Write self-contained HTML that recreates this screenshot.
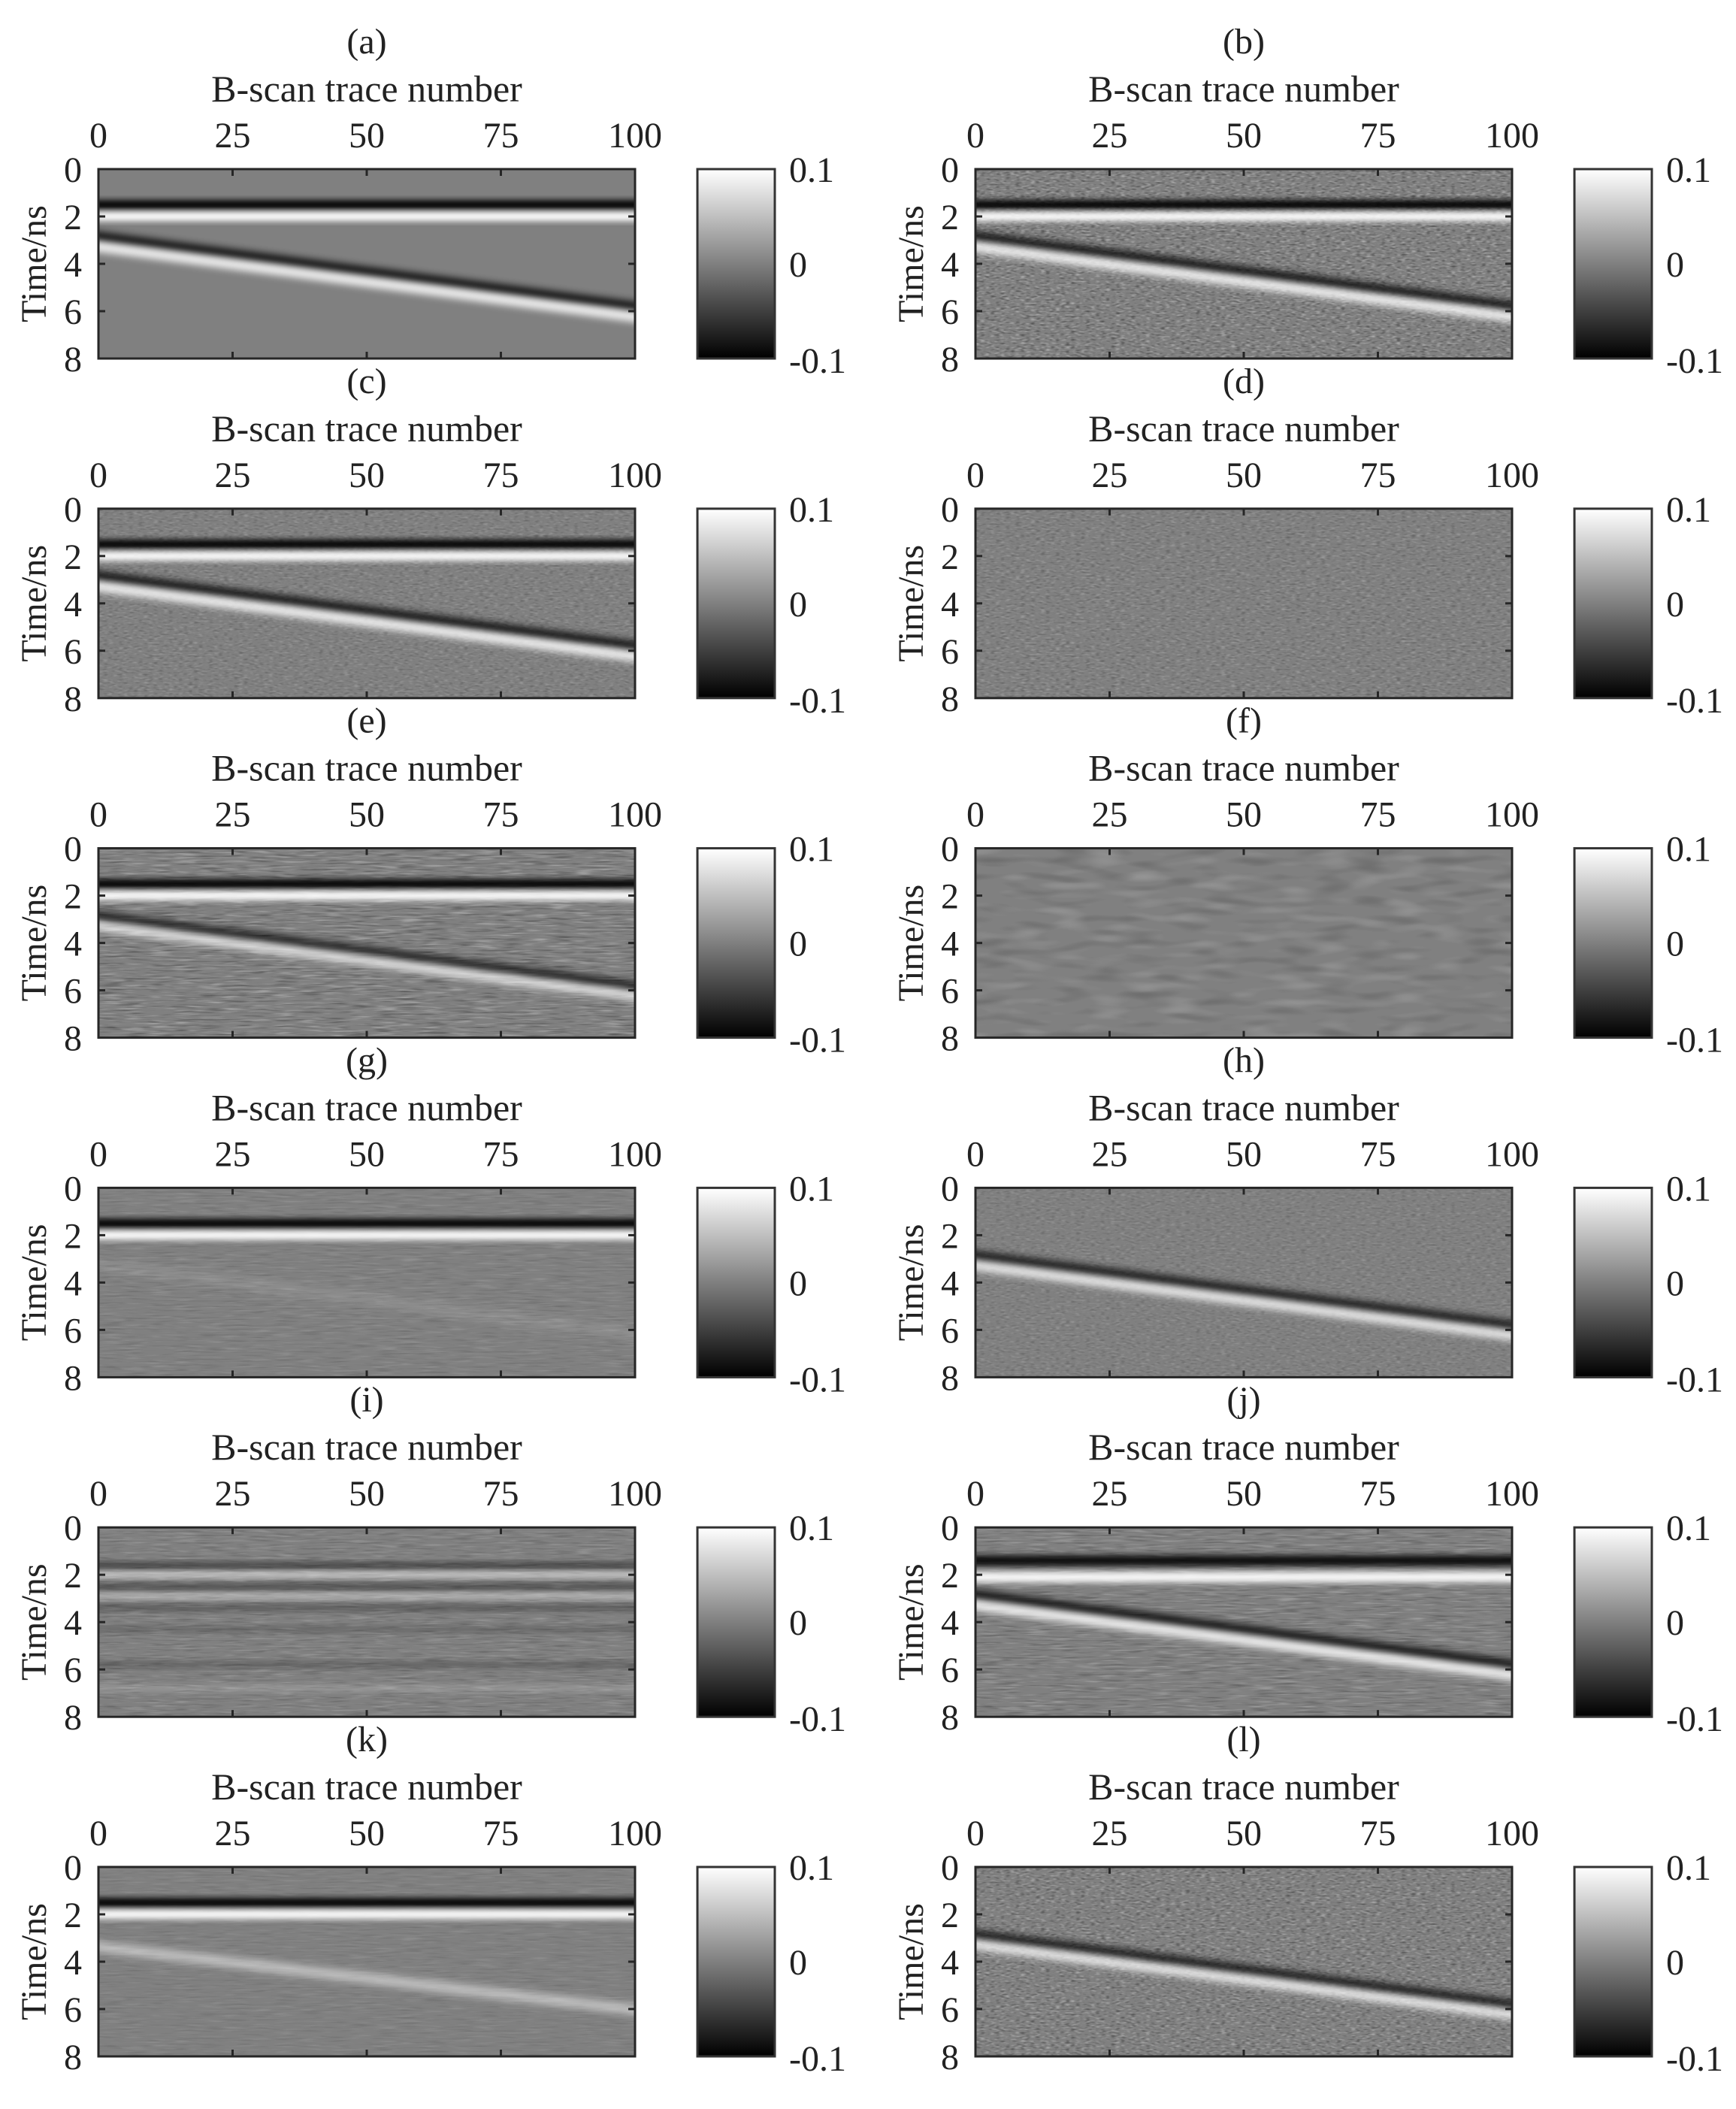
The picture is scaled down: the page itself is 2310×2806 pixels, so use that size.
<!DOCTYPE html>
<html><head><meta charset="utf-8">
<style>
html,body{margin:0;padding:0;background:#fff;}
</style></head>
<body>
<svg id="s" width="2310" height="2801" xmlns="http://www.w3.org/2000/svg">
<defs>
<linearGradient id="cb" x1="0" y1="0" x2="0" y2="1"><stop offset="0" stop-color="#fff"/><stop offset="1" stop-color="#000"/></linearGradient>
<filter id="bl" x="-5%" y="-50%" width="110%" height="200%"><feGaussianBlur stdDeviation="0 4"/></filter>
<filter id="bl2" x="-5%" y="-50%" width="110%" height="200%"><feGaussianBlur stdDeviation="2 5"/></filter>
<filter id="nz1" x="0" y="0" width="100%" height="100%"><feTurbulence type="fractalNoise" baseFrequency="0.15 0.45" numOctaves="1" seed="3"/><feColorMatrix type="matrix" values="0 0 0 0 0  0 0 0 0 0  0 0 0 0 0  1.6 0 0 0 -0.8"/></filter>
<filter id="nzW" x="0" y="0" width="100%" height="100%"><feTurbulence type="fractalNoise" baseFrequency="0.15 0.45" numOctaves="1" seed="7"/><feColorMatrix type="matrix" values="0 0 0 0 1  0 0 0 0 1  0 0 0 0 1  1.6 0 0 0 -0.8"/></filter>
<filter id="nzS" x="0" y="0" width="100%" height="100%"><feTurbulence type="fractalNoise" baseFrequency="0.03 0.4" numOctaves="2" seed="5"/><feColorMatrix type="matrix" values="0 0 0 0 0  0 0 0 0 0  0 0 0 0 0  1.4 0 0 0 -0.7"/></filter>
<filter id="nzS2" x="0" y="0" width="100%" height="100%"><feTurbulence type="fractalNoise" baseFrequency="0.03 0.4" numOctaves="2" seed="9"/><feColorMatrix type="matrix" values="0 0 0 0 1  0 0 0 0 1  0 0 0 0 1  1.4 0 0 0 -0.7"/></filter>
<filter id="nzF" x="0" y="0" width="100%" height="100%"><feTurbulence type="fractalNoise" baseFrequency="0.02 0.09" numOctaves="1" seed="2"/><feColorMatrix type="matrix" values="0 0 0 0 0  0 0 0 0 0  0 0 0 0 0  1.6 0 0 0 -0.8"/></filter>
<filter id="nzF2" x="0" y="0" width="100%" height="100%"><feTurbulence type="fractalNoise" baseFrequency="0.02 0.09" numOctaves="1" seed="4"/><feColorMatrix type="matrix" values="0 0 0 0 1  0 0 0 0 1  0 0 0 0 1  1.6 0 0 0 -0.8"/></filter>
</defs>
<g id="root" font-family="'Liberation Serif','Times New Roman','DejaVu Serif',serif" fill="#222"></g>
</svg>
<script>
var W=714,H=252,ns=H/8;
function hb(y,c,w,op,f){return '<rect x="0" y="'+(y*ns-w/2)+'" width="'+W+'" height="'+w+'" fill="'+c+'" opacity="'+(op||1)+'" filter="url(#'+(f||'bl')+')"/>';}
function dg(y0,y1,c,w,op,f){return '<line x1="-5" y1="'+(y0*ns)+'" x2="'+(W+5)+'" y2="'+(y1*ns)+'" stroke="'+c+'" stroke-width="'+w+'" opacity="'+(op||1)+'" filter="url(#'+(f||'bl2')+')"/>';}
function nzo(a,b,o){return '<rect width="'+W+'" height="'+H+'" filter="url(#'+a+')" opacity="'+o+'"/><rect width="'+W+'" height="'+H+'" filter="url(#'+b+')" opacity="'+o+'"/>';}
var direct=hb(1.5,'#000',12)+hb(2.0,'#fff',12);
var diag=dg(2.85,5.85,'#000',14,0.9)+dg(3.25,6.25,'#fff',14,0.9);
var P={
a:direct+diag,
b:nzo('nz1','nzW',0.65)+direct+diag,
c:nzo('nz1','nzW',0.35)+direct+diag,
d:nzo('nz1','nzW',0.4),
e:nzo('nzS','nzS2',0.6)+direct+dg(2.85,5.85,'#000',12,0.8)+dg(3.25,6.25,'#fff',12,0.8),
f:nzo('nzF','nzF2',0.3),
g:nzo('nzS','nzS2',0.25)+direct+dg(3.2,6.2,'#fff',16,0.1),
h:nzo('nz1','nzW',0.3)+dg(2.85,5.85,'#000',13,0.85)+dg(3.25,6.25,'#fff',13,0.85),
i:nzo('nzS','nzS2',0.35)+hb(1.6,'#000',8,0.5)+hb(2.0,'#fff',8,0.6)+hb(2.5,'#000',8,0.4)+hb(2.9,'#fff',8,0.45)+hb(3.4,'#000',8,0.3)+hb(4.3,'#000',8,0.2)+hb(5.8,'#000',8,0.25)+hb(6.8,'#fff',8,0.2),
j:nzo('nzS','nzS2',0.45)+hb(1.4,'#000',14,0.9)+hb(2.1,'#fff',14,0.95)+diag,
k:nzo('nzS','nzS2',0.2)+direct+dg(3.35,6.05,'#fff',14,0.5),
l:nzo('nz1','nzW',0.6)+dg(2.85,5.85,'#000',13,0.85)+dg(3.25,6.25,'#fff',13,0.85)
};
var keys='abcdefghijkl'.split('');
var out='';
for(var i=0;i<12;i++){
 var col=i%2,row=Math.floor(i/2);
 var px=col?1298:131, py=225+row*451.8, cx=px+W/2, cbx=col?2095:928;
 out+='<text x="'+cx+'" y="'+(py-154)+'" font-size="48" text-anchor="middle">('+keys[i]+')</text>';
 out+='<text x="'+cx+'" y="'+(py-90)+'" font-size="50" text-anchor="middle">B-scan trace number</text>';
 for(var t=0;t<=4;t++){var tx=px+t*W/4;out+='<text x="'+tx+'" y="'+(py-29)+'" font-size="48" text-anchor="middle">'+(t*25)+'</text>';}
 for(var t=0;t<=4;t++){var ty=py+t*63;out+='<text x="'+(px-22)+'" y="'+(ty+17)+'" font-size="48" text-anchor="end">'+(t*2)+'</text>';}
 out+='<text transform="translate('+(px-70)+','+(py+126)+') rotate(-90)" font-size="48" text-anchor="middle">Time/ns</text>';
 out+='<svg x="'+px+'" y="'+py+'" width="'+W+'" height="'+H+'"><rect width="'+W+'" height="'+H+'" fill="#808080"/>'+P[keys[i]]+'</svg>';
 out+='<rect x="'+px+'" y="'+py+'" width="'+W+'" height="'+H+'" fill="none" stroke="#262626" stroke-width="3"/>';
 for(var t=1;t<4;t++){var tx=px+t*W/4;out+='<line x1="'+tx+'" y1="'+py+'" x2="'+tx+'" y2="'+(py+9)+'" stroke="#262626" stroke-width="3"/><line x1="'+tx+'" y1="'+(py+H)+'" x2="'+tx+'" y2="'+(py+H-9)+'" stroke="#262626" stroke-width="3"/>';
  var ty=py+t*63;out+='<line x1="'+px+'" y1="'+ty+'" x2="'+(px+9)+'" y2="'+ty+'" stroke="#262626" stroke-width="3"/><line x1="'+(px+W)+'" y1="'+ty+'" x2="'+(px+W-9)+'" y2="'+ty+'" stroke="#262626" stroke-width="3"/>';}
 out+='<rect x="'+cbx+'" y="'+py+'" width="103" height="'+H+'" fill="url(#cb)" stroke="#333" stroke-width="3"/>';
 out+='<text x="'+(cbx+122)+'" y="'+(py+17)+'" font-size="48">0.1</text>';
 out+='<text x="'+(cbx+122)+'" y="'+(py+143)+'" font-size="48">0</text>';
 out+='<text x="'+(cbx+122)+'" y="'+(py+H+19)+'" font-size="48">-0.1</text>';
}
document.getElementById('root').innerHTML=out;
</script>
</body></html>
